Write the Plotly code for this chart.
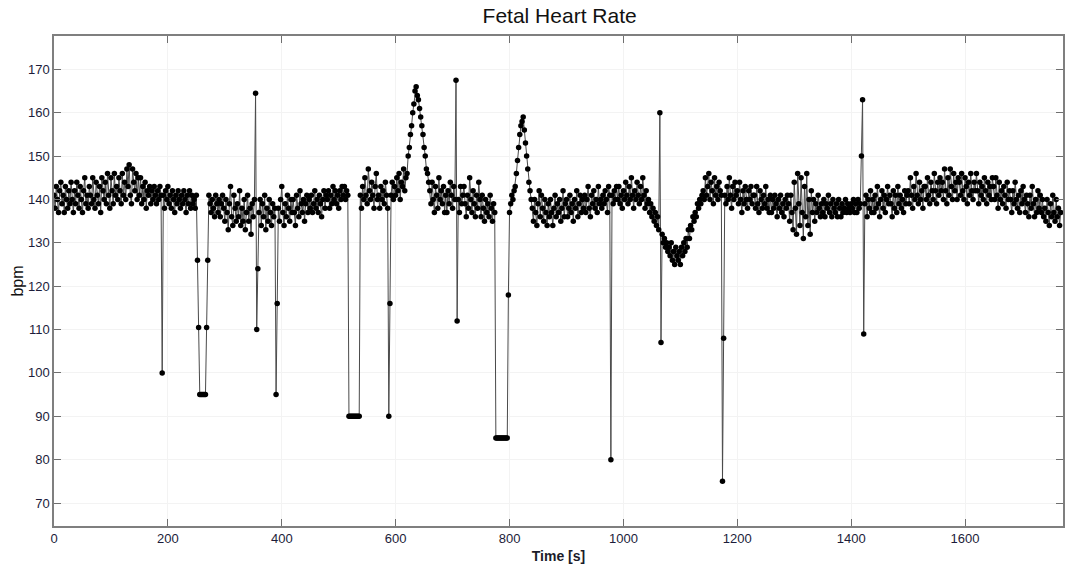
import plotly.graph_objects as go

# Sampling: one value every 2 s starting at t = 0 s
t_start = 0
t_step = 2

fhr = [
    141,138,143,140,137,142,144,139,141,137,143,140,138,142,139,
    144,140,137,142,139,144,141,138,143,140,137,142,145,139,141,
    138,143,141,139,145,140,138,144,141,139,143,137,145,142,140,
    144,139,146,141,138,145,142,139,146,141,143,140,145,142,139,
    146,141,144,140,147,143,148,141,139,147,144,142,146,140,145,
    141,145,139,143,140,144,138,142,141,143,139,142,140,143,141,
    139,142,140,143,141,100,141,138,142,140,143,139,141,138,142,
    140,137,141,139,142,140,138,141,139,142,140,137,141,139,142,
    138,141,139,140,138,141,126,110.5,95,95,95,95,95,95,110.5,
    126,141,139,137,140,138,136,141,139,137,140,136,139,141,138,
    135,140,137,133,139,143,136,134,141,138,135,139,136,142,134,
    138,135,140,133,137,141,135,138,132,139,136,140,164.5,110,124,
    137,140,134,139,136,141,133,138,135,140,137,134,139,136,138,
    95,116,138,135,140,143,137,134,139,136,141,138,135,140,137,
    140,137,134,141,138,136,142,139,137,140,135,139,141,137,140,
    138,141,137,139,142,138,140,137,141,139,136,140,142,138,141,
    140,142,138,141,139,143,140,142,139,141,138,142,140,143,141,
    143,140,142,141,90,90,90,90,90,90,90,90,90,90,141,
    138,143,140,145,141,139,147,142,140,144,141,138,143,146,140,
    141,138,143,140,142,139,144,141,138,90,116,141,144,140,143,
    141,145,142,146,140,144,143,147,142,145,146,150,152,155,157,
    160,162,165,166,164,163,161,159,157,155,152,150,147,146,144,
    142,139,144,140,137,143,141,138,145,140,142,139,143,137,141,
    137,142,139,144,141,138,143,140,167.5,112,140,137,143,139,141,
    143,139,136,141,138,145,140,137,142,139,136,141,138,144,140,
    136,141,138,135,140,137,139,136,141,138,135,139,137,85,85,
    85,85,85,85,85,85,85,85,85,118,137,139,141,140,142,
    143,146,149,152,155,157,158,159,156,153,150,147,144,142,140,
    138,135,140,137,134,139,142,136,141,138,135,140,137,134,139,
    136,140,137,134,138,141,136,139,137,140,135,138,142,136,139,
    140,136,138,141,137,139,135,140,138,142,136,139,141,137,140,
    138,141,137,140,143,138,136,141,139,142,138,140,137,143,139,
    140,138,141,139,142,140,137,143,141,80,141,139,142,140,143,
    140,143,139,141,138,142,140,144,141,139,143,140,145,141,138,
    142,140,144,141,139,143,140,145,141,138,142,139,140,137,139,
    136,138,135,137,134,136,133,160,107,132,130,131,129,130,128,
    129,127,130,126,128,125,129,127,126,128,125,129,127,130,128,
    131,129,133,131,134,133,136,135,137,136,139,138,140,139,141,
    142,140,145,141,143,146,140,144,142,139,145,141,143,140,144,
    142,141,75,108,141,139,143,140,145,141,138,143,140,144,141,
    142,139,144,140,137,142,139,143,140,138,142,140,143,139,141,
    141,138,143,139,137,142,140,138,141,139,143,138,140,137,141,
    137,140,138,141,139,136,140,138,141,137,139,136,140,138,141,
    139,135,141,137,133,144,138,132,146,139,134,145,137,131,143,
    136,146,134,140,132,142,137,140,135,139,137,141,138,136,139,
    137,140,136,139,138,141,137,139,136,140,138,137,139,136,140,
    138,136,139,137,138,140,137,139,138,137,139,138,140,137,139,
    137,140,138,139,150,163,109,139,141,136,140,138,142,137,140,
    137,141,138,143,139,136,140,142,138,141,137,140,143,139,141,
    139,136,142,138,141,137,143,139,141,138,140,137,142,139,141,
    142,139,145,141,138,143,140,146,141,139,144,140,142,138,143,
    143,140,145,141,139,144,142,140,146,142,139,144,141,145,142,
    144,140,147,142,139,145,141,147,143,140,146,142,144,140,145,
    144,141,146,142,140,145,143,139,144,141,146,142,140,144,142,
    146,142,139,144,141,143,140,145,142,139,144,141,143,140,145,
    143,140,145,141,138,144,140,142,139,143,141,138,144,140,142,
    140,137,142,139,144,140,138,141,137,142,139,143,140,137,141,
    139,136,141,138,143,139,136,140,137,142,138,141,137,140,136,
    138,135,140,137,134,139,136,141,137,135,140,136,138,134,137,
]
time_s = [t_start + t_step * i for i in range(len(fhr))]

x_ticks = [0, 200, 400, 600, 800, 1000, 1200, 1400, 1600]
y_ticks = [70, 80, 90, 100, 110, 120, 130, 140, 150, 160, 170]

fig = go.Figure()
fig.add_trace(go.Scatter(
    x=time_s, y=fhr, mode="lines+markers",
    line=dict(color="#4a4a4a", width=1),
    marker=dict(color="black", size=5.5, symbol="circle"),
    showlegend=False,
))

axis_common = dict(
    showline=True, linecolor="#7f7f7f", linewidth=1.5, mirror="ticks",
    ticks="inside", ticklen=7, tickwidth=1.3, tickcolor="#6f6f6f",
    showgrid=True, gridcolor="#f3f3f3", gridwidth=1, zeroline=False,
    tickfont=dict(family="Liberation Sans, Arial, sans-serif", size=13, color="#1c1c3a"),
)

fig.update_xaxes(
    range=[0, 1772], tickvals=x_ticks, ticktext=[str(v) for v in x_ticks],
    title=dict(text="<b>Time [s]</b>", standoff=6,
               font=dict(family="Liberation Sans, Arial, sans-serif", size=14, color="#1c1c2a")),
    **axis_common,
)
fig.update_yaxes(
    range=[64.7, 177.7], tickvals=y_ticks, ticktext=[str(v) for v in y_ticks],
    title=dict(text="bpm", standoff=0,
               font=dict(family="Liberation Sans, Arial, sans-serif", size=16, color="#111111")),
    **axis_common,
)

fig.update_layout(
    width=1067, height=570,
    margin=dict(l=54, r=2, t=36, b=44),
    paper_bgcolor="white", plot_bgcolor="white",
    title=dict(text="Fetal Heart Rate", x=0.5245, xanchor="center", y=0.972, yanchor="middle",
               font=dict(family="Liberation Sans, Arial, sans-serif", size=21, color="#111111")),
)

fig.write_html("out.html")
